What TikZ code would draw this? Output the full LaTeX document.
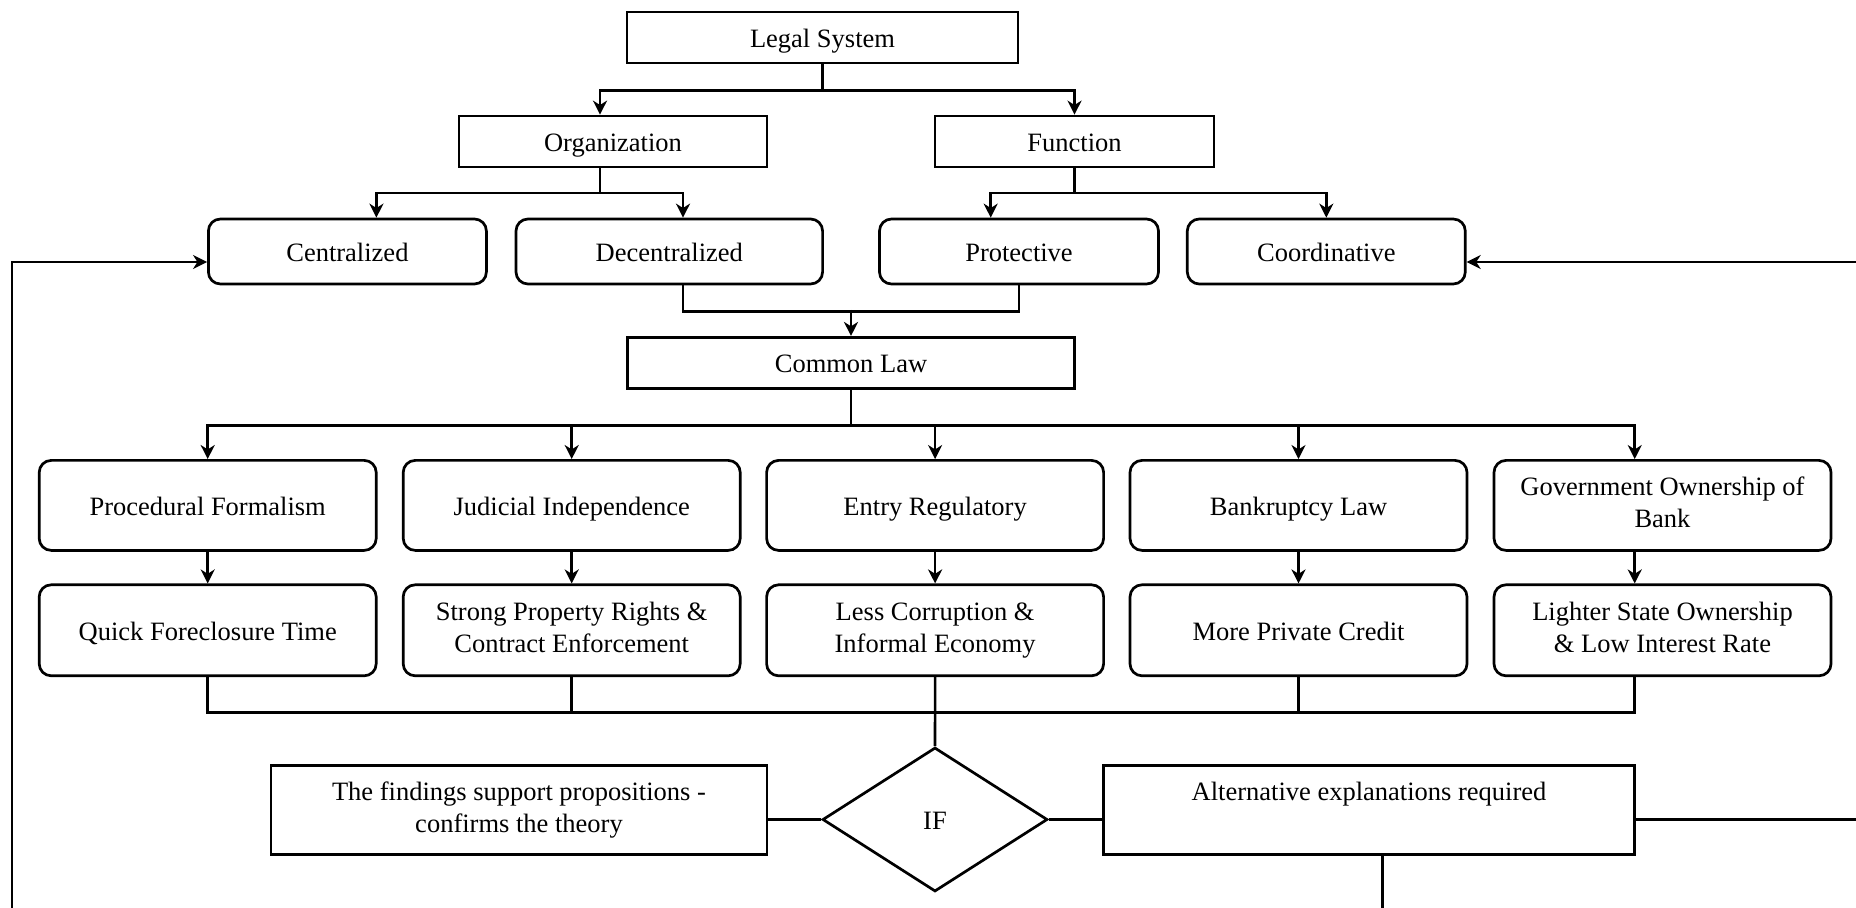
\documentclass[tikz,border=0pt]{standalone}
\usepackage{fontspec}
\setmainfont{Liberation Serif}
\usetikzlibrary{arrows.meta,shapes.geometric}

% fixed line height and depth so every label sits at the same level
\newcommand\labelstrut{\rule[-3pt]{0pt}{16pt}}

\tikzset{
  every node/.style={font=\fontsize{13.25pt}{16pt}\selectfont, align=center, inner sep=2pt,
    execute at begin node=\labelstrut, execute at end node=\labelstrut},
  sqbox/.style={draw, line width=1.35pt, rectangle, minimum height=25.5pt},
  rbox/.style={draw, line width=1.35pt, rectangle, rounded corners=6pt},
  cell/.style={rbox, minimum width=168.5pt},
  conn/.style={line width=1.3pt},
  arr/.style={conn, -{Stealth[length=7pt, width=7pt, inset=2.2pt]}},
  decision/.style={draw, line width=1.35pt, diamond, minimum width=112.5pt, minimum height=72pt, inner sep=0pt},
}

\begin{document}
\begin{tikzpicture}[x=0.5pt, y=-0.5pt]
\useasboundingbox (0,0) rectangle (1856,908);
\clip (0,0) rectangle (1856,908);

% top levels
\node[sqbox, minimum width=195.5pt] (legal) at (822.5,37.5) {Legal System};
\node[sqbox, minimum width=154pt] (org) at (613,141.5) {Organization};
\node[sqbox, minimum width=139.5pt] (func) at (1074.5,141.5) {Function};

% kinds of organization and function
\node[rbox, minimum width=139pt, minimum height=32.5pt] (cent) at (347.4,251.5) {Centralized};
\node[rbox, minimum width=153.3pt, minimum height=32.5pt] (decent) at (669.3,251.5) {Decentralized};
\node[rbox, minimum width=139.5pt, minimum height=32.5pt] (prot) at (1019,251.5) {Protective};
\node[rbox, minimum width=139pt, minimum height=32.5pt] (coord) at (1326.3,251.5) {Coordinative};

\node[sqbox, minimum width=223.75pt] (common) at (851,362.8) {Common Law};

% institutions
\node[cell, minimum height=45pt] (ia) at (207.7,505.4) {Procedural Formalism};
\node[cell, minimum height=45pt] (ib) at (571.7,505.4) {Judicial Independence};
\node[cell, minimum height=45pt] (ic) at (935.1,505.4) {Entry Regulatory};
\node[cell, minimum height=45pt] (id) at (1298.5,505.4) {Bankruptcy Law};
\node[cell, minimum height=45pt] (ie) at (1662.5,505.4) {Government Ownership of\\Bank};

% outcomes
\node[cell, minimum height=45.5pt] (oa) at (207.7,630.3) {Quick Foreclosure Time};
\node[cell, minimum height=45.5pt] (ob) at (571.7,630.3) {Strong Property Rights \&\\Contract Enforcement};
\node[cell, minimum height=45.5pt] (oc) at (935.1,630.3) {Less Corruption \&\\Informal Economy};
\node[cell, minimum height=45.5pt] (od) at (1298.5,630.3) {More Private Credit};
\node[cell, minimum height=45.5pt] (oe) at (1662.5,630.3) {Lighter State Ownership\\\& Low Interest Rate};

% decision
\node[decision] (ifd) at (935,819.5) {IF};
\node[sqbox, minimum width=248pt, minimum height=44.5pt] (find) at (519,810) {The findings support propositions -\\confirms the theory};
\node[sqbox, minimum width=265.75pt, minimum height=44.5pt] (alt) at (1369,810) {Alternative explanations required\\~};

% junction points and feedback rails
\coordinate (mergeA) at (851,310);
\coordinate (railR) at (1880,262);
\coordinate (railL) at (12,930);

% tree connectors
\draw[arr] (legal.south) -- ++(0,26) -| ([xshift=-6.5pt]org.north);
\draw[arr] (legal.south) -- ++(0,26) -| (func.north);
\draw[arr] ([xshift=-6.5pt]org.south) -- ++(0,24.8) -| ([xshift=14.5pt]cent.north);
\draw[arr] ([xshift=-6.5pt]org.south) -- ++(0,24.8) -| ([xshift=6.85pt]decent.north);
\draw[arr] (func.south) -- ++(0,24.8) -| ([xshift=-14.15pt]prot.north);
\draw[arr] (func.south) -- ++(0,24.8) -| (coord.north);

\draw[conn] ([xshift=6.85pt]decent.south) -- ++(0,26) -| (prot.south);
\draw[arr] (mergeA) -- (common.north);

\foreach \t in {ia,ib,ic,id}
  \draw[arr] (common.south) -- ++(0,35.6) -| (\t.north);
\draw[arr] (common.south) -- ++(0,35.6) -| ([xshift=-13.9pt]ie.north);

\foreach \s/\t in {ia/oa,ib/ob,ic/oc,id/od}
  \draw[arr] (\s.south) -- (\t.north);
\draw[arr] ([xshift=-13.9pt]ie.south) -- ([xshift=-13.9pt]oe.north);

\draw[conn] (oa.south) -- ++(0,35.5) -| ([xshift=-13.9pt]oe.south);
\draw[conn] (ob.south) -- ++(0,35.5);
\draw[conn] (od.south) -- ++(0,35.5);
\draw[conn] (oc.south) -- (ifd.north);

% decision outcomes
\draw[conn] (ifd.west) -- (ifd.west -| find.east);
\draw[conn] (ifd.east) -- (ifd.east -| alt.west);

% feedback loops
\draw[arr] (ifd.east -| alt.east) -| (railR) -- ([yshift=-5.25pt]coord.east);
\draw[arr] ([xshift=6.8pt]alt.south) |- (railL) |- ([yshift=-5.25pt]cent.west);
\end{tikzpicture}
\end{document}
